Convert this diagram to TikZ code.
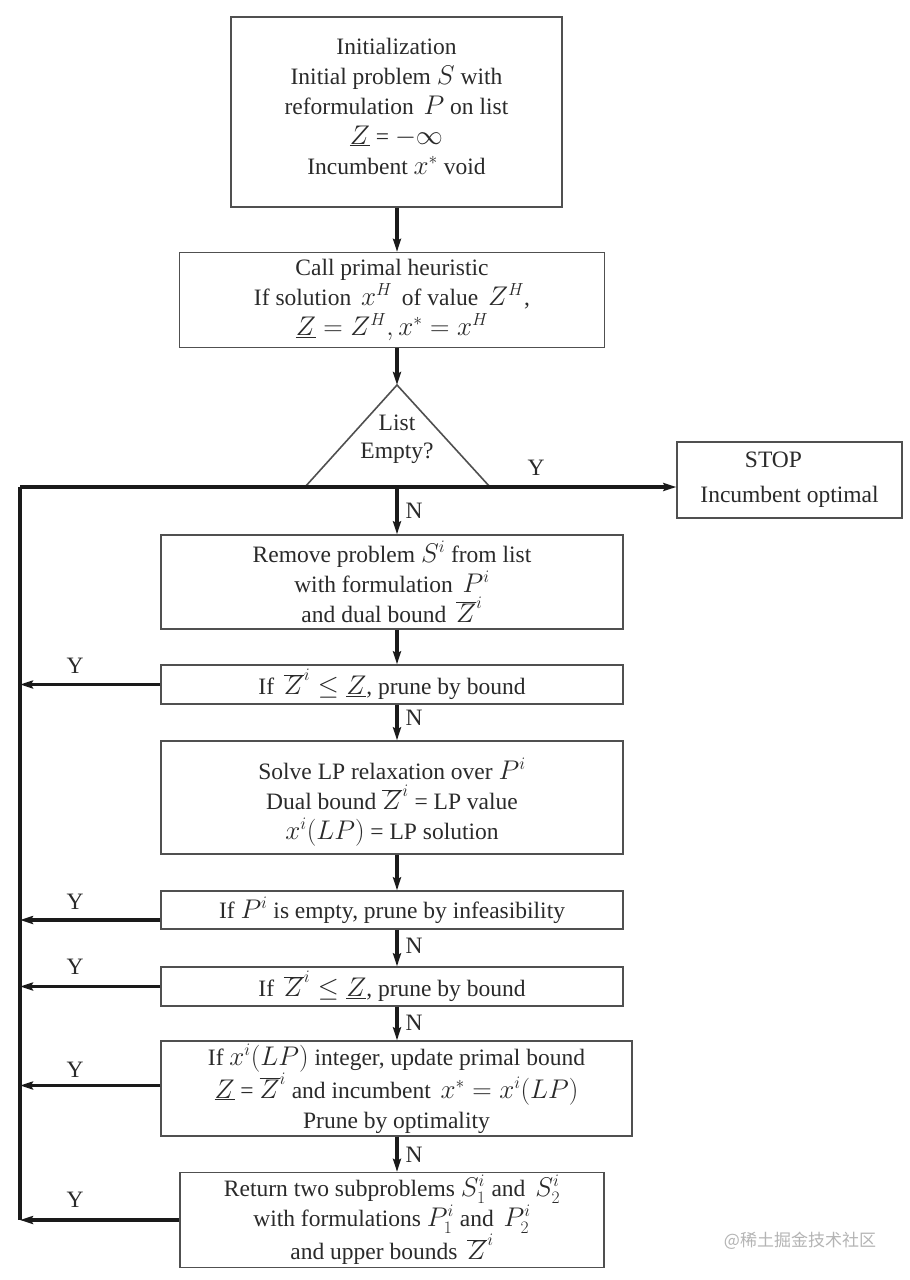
\RequirePackage{fix-cm}
\documentclass[tikz,border=0pt]{standalone}
\usepackage{fontspec}
\setmainfont{Liberation Serif}
\newfontfamily\cjk{Noto Sans CJK SC}
\DeclareMathSizes{23.5}{27}{17.5}{14}
\usetikzlibrary{arrows.meta,calc}
\definecolor{boxline}{HTML}{505050}
\definecolor{txt}{HTML}{2A2A2A}
\definecolor{conn}{HTML}{1A1A1A}
\definecolor{wm}{HTML}{B4B4B4}
\tikzset{
  procbox/.style={draw=boxline, line width=1.4pt, rectangle, inner sep=0pt,
    align=center, text=txt, font=\fontsize{23.5}{30}\selectfont},
  flow/.style={draw=conn, line width=3.6pt,
    -{Stealth[length=13pt,width=8pt,inset=2pt]}},
  bar/.style={draw=conn, line width=3.6pt},
  lab/.style={text=txt, font=\fontsize{23.5}{26}\selectfont, inner sep=0pt},
}
\begin{document}
\begin{tikzpicture}[x=1pt,y=-1pt]
\useasboundingbox (0,0) rectangle (910,1280);
\fill[white] (0,0) rectangle (910,1280);
\coordinate (axis) at (397,0);
\coordinate (rail) at (20,0);

\node[procbox, minimum width=331pt, minimum height=190pt] (init) at (396.5,112)
 {\raisebox{-0.75pt}[0pt][0pt]{\parbox{320pt}{\centering Initialization\\ Initial problem $S$ with\\ reformulation\, $P$ on list\\ $\underline{Z}$ = $-\infty$\\ Incumbent $x^*$ void}}};

\node[procbox, minimum width=425pt, minimum height=95pt] (heur) at (392,300)
 {Call primal heuristic\\ If solution\, $x^H$\, of value\, $Z^H$,\\ $\underline{Z} = Z^H, x^* = x^H$};

\coordinate (apex) at (397,385);
\coordinate (bl) at (305,487);
\coordinate (br) at (490,487);
\draw[boxline, line width=1.6pt, fill=white] (apex) -- (br) -- (bl) -- cycle;
\node[align=center, text=txt, font=\fontsize{23.5}{28}\selectfont] (tri) at (397,439) {List\\ Empty?};

\node[procbox, minimum width=225pt, minimum height=76pt, font=\fontsize{23.5}{35}\selectfont] (stop) at (789.5,480)
 {STOP\hspace*{32pt}\\ Incumbent optimal};

\node[procbox, minimum width=462pt, minimum height=94pt] (rem) at (392,582)
 {Remove problem $S^i$ from list\\ with formulation\, $P^i$\\ and dual bound\, $\overline{Z}^i$};

\node[procbox, minimum width=462pt, minimum height=39pt] (b1) at (392,684.5)
 {If\, $\overline{Z}^i \leq \underline{Z}$, prune by bound};

\node[procbox, minimum width=462pt, minimum height=113pt] (lp) at (392,797.5)
 {\raisebox{-11.75pt}[0pt][0pt]{\parbox{450pt}{\centering Solve LP relaxation over $P^i$\\ Dual bound $\overline{Z}^i$ = LP value\\ $x^i(LP)$ = LP solution}}};

\node[procbox, minimum width=462pt, minimum height=38pt] (inf) at (392,910)
 {If $P^i$ is empty, prune by infeasibility};

\node[procbox, minimum width=462pt, minimum height=39pt] (b2) at (392,986.5)
 {If\, $\overline{Z}^i \leq \underline{Z}$, prune by bound};

\node[procbox, minimum width=471pt, minimum height=95pt] (int) at (396.5,1088.5)
 {If $x^i(LP)$ integer, update primal bound\\ $\underline{Z}$ = $\overline{Z}^i$ and incumbent\, $x^* = x^i(LP)$\\ Prune by optimality};

\node[procbox, minimum width=424pt, minimum height=95pt] (ret) at (392,1220)
 {Return two subproblems $S_1^i$ and\, $S_2^i$\\ with formulations $P_1^i$ and\, $P_2^i$\\ and upper bounds\, $\overline{Z}^i$};

\coordinate (infy) at ([yshift=-10pt]inf.west);
\coordinate (inty) at ([yshift=3pt]int.west);

% main vertical flow
\draw[flow] (axis |- init.south) -- (axis |- heur.north);
\draw[flow] (axis |- heur.south) -- (apex);
\draw[flow] (axis |- bl) -- (axis |- rem.north);
\draw[flow] (axis |- rem.south) -- (axis |- b1.north);
\draw[flow] (axis |- b1.south) -- (axis |- lp.north);
\draw[flow] (axis |- lp.south) -- (axis |- inf.north);
\draw[flow] (axis |- inf.south) -- (axis |- b2.north);
\draw[flow] (axis |- b2.south) -- (axis |- int.north);
\draw[flow] (axis |- int.south) -- (axis |- ret.north);

% horizontal line to STOP and the rail
\draw[flow] (rail |- bl) -- (stop.west |- bl);
\draw[bar] (rail |- bl) -- (rail |- ret.west);

% Y arrows to the rail
\draw[flow] (b1.west) -- (rail |- b1.west);
\draw[flow] (infy) -- (rail |- infy);
\draw[flow] (b2.west) -- (rail |- b2.west);
\draw[flow] (inty) -- (rail |- inty);
\draw[flow] (ret.west) -- (rail |- ret.west);

% labels
\node[lab] (ystop) at (536,468) {Y};
\node[lab] (n1) at (414,511) {N};
\node[lab] (n2) at (414,718) {N};
\node[lab] (n3) at (414,946) {N};
\node[lab] (n4) at (414,1023) {N};
\node[lab] (n5) at (414,1155) {N};
\node[lab] (y1) at (75,666) {Y};
\node[lab] (y2) at (75,902) {Y};
\node[lab] (y3) at (75,967) {Y};
\node[lab] (y4) at (75,1070) {Y};
\node[lab] (y5) at (75,1200) {Y};

\node[text=wm, font=\cjk\fontsize{17}{20}\selectfont, inner sep=0pt] (wmk) at (800,1241) {@稀土掘金技术社区};
\end{tikzpicture}
\end{document}
